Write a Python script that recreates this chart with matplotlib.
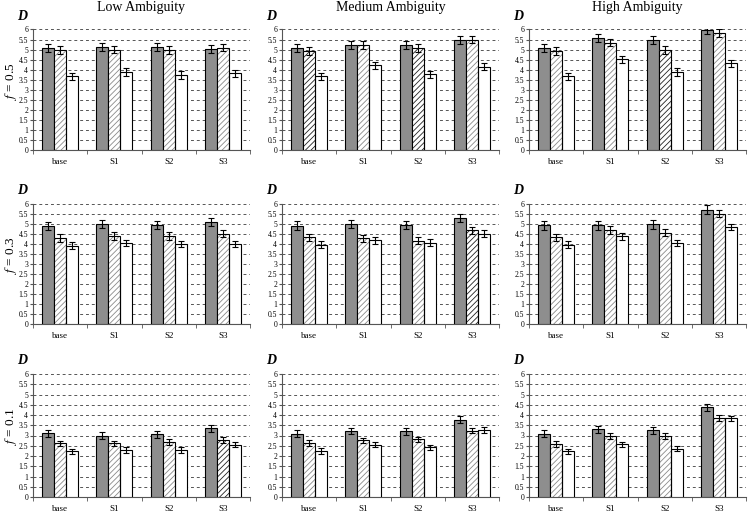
import numpy as np
import matplotlib
matplotlib.use("Agg")
from matplotlib import pyplot as plt
from matplotlib.ticker import FixedLocator, FuncFormatter

plt.rcParams['font.family'] = ['Liberation Serif', 'DejaVu Serif']
plt.rcParams['mathtext.fontset'] = 'stix'
plt.rcParams['hatch.linewidth'] = 0.6

categories = ['base', 'S1', 'S2', 'S3']
columns = ['Low Ambiguity', 'Medium Ambiguity', 'High Ambiguity']
rows = ['0.5', '0.3', '0.1']

# values: [grey, hatched, white] per category
low_f05 = [[5.09, 5.14, 5.12, 5.04], [4.97, 5.00, 4.97, 5.10], [3.66, 3.88, 3.73, 3.81]]
med_f05 = [[5.10, 5.24, 5.24, 5.50], [4.93, 5.22, 5.07, 5.50], [3.66, 4.21, 3.77, 4.15]]
high_f05 = [[5.09, 5.58, 5.48, 5.99], [4.93, 5.35, 4.99, 5.84], [3.67, 4.52, 3.88, 4.32]]

low_f03 = [[4.89, 5.01, 4.96, 5.11], [4.30, 4.40, 4.40, 4.52], [3.92, 4.05, 4.00, 4.00]]
med_f03 = [[4.92, 5.00, 4.96, 5.30], [4.34, 4.28, 4.16, 4.69], [3.96, 4.19, 4.06, 4.51]]
high_f03 = [[4.93, 4.93, 4.98, 5.72], [4.33, 4.70, 4.57, 5.52], [3.96, 4.38, 4.05, 4.85]]

low_f01 = [[3.10, 2.98, 3.07, 3.36], [2.61, 2.61, 2.67, 2.77], [2.23, 2.30, 2.30, 2.56]]
med_f01 = [[3.09, 3.22, 3.21, 3.76], [2.65, 2.76, 2.81, 3.24], [2.25, 2.56, 2.42, 3.27]]
high_f01 = [[3.08, 3.30, 3.25, 4.37], [2.60, 2.97, 2.98, 3.87], [2.23, 2.57, 2.36, 3.84]]

# error bar half-widths per series, per row
err_f05 = [0.20, 0.19, 0.18]
err_f03 = [0.21, 0.18, 0.17]
err_f01 = [0.17, 0.14, 0.13]

panels = [[low_f05, med_f05, high_f05],
          [low_f03, med_f03, high_f03],
          [low_f01, med_f01, high_f01]]
errs = [err_f05, err_f03, err_f01]

# hatched bars printed with dark hatching (row, col, category)
dark_hatch = {(0, 1, 0), (0, 1, 2), (0, 2, 2), (1, 1, 3), (2, 0, 3)}

W, H = 750, 515
fig = plt.figure(figsize=(7.5, 5.15), dpi=100)

col_left = [33, 282, 529]
col_width = 217
row_top = [29.5, 204, 374]
row_bottom = [150, 324, 497]

w = 0.22
x = np.arange(len(categories))

for r in range(3):
    for c in range(3):
        ax = fig.add_axes([col_left[c] / W, 1 - row_bottom[r] / H,
                           col_width / W, (row_bottom[r] - row_top[r]) / H])
        vals = panels[r][c]
        e = errs[r]
        ekw = dict(ecolor='black', elinewidth=0.8, capsize=2, capthick=0.8)
        ax.bar(x - w, vals[0], w, yerr=e[0], color='#8e8e8e',
               edgecolor='black', linewidth=0.8, error_kw=ekw, zorder=3)
        for i in range(len(categories)):
            hc = '#222222' if (r, c, i) in dark_hatch else '#8a8a8a'
            ax.bar(x[i], vals[1][i], w, color='white', edgecolor=hc,
                   hatch='//////', linewidth=0, zorder=3)
            ax.bar(x[i], vals[1][i], w, color='none', edgecolor='black',
                   linewidth=0.8, yerr=e[1], error_kw=ekw, zorder=4)
        ax.bar(x + w, vals[2], w, yerr=e[2], color='white',
               edgecolor='black', linewidth=0.8, error_kw=ekw, zorder=3)

        ax.set_xlim(-0.5, 3.5)
        ax.set_ylim(0, 6)
        ax.yaxis.set_major_locator(FixedLocator(np.arange(0, 6.01, 0.5)))
        ax.yaxis.set_major_formatter(FuncFormatter(lambda v, p: '%g' % v))
        ax.set_xticks(x)
        ax.set_xticklabels(categories, fontsize=6.5)
        ax.xaxis.set_minor_locator(FixedLocator(np.arange(-0.5, 3.6, 1)))
        ax.tick_params(axis='x', which='major', length=0, pad=6)
        ax.tick_params(axis='x', which='minor', length=3, direction='out', color='#555555')
        ax.tick_params(axis='y', labelsize=5.5, length=2.5, pad=1.0, color='#555555')
        ax.grid(axis='y', color='#555555', linestyle=(0, (3, 3)), linewidth=0.7, zorder=0)
        for s in ['top', 'right']:
            ax.spines[s].set_visible(False)
        for s in ['left', 'bottom']:
            ax.spines[s].set_color('#555555')
            ax.spines[s].set_linewidth(0.8)
        ax.set_axisbelow(True)

        fig.text((col_left[c] - 16) / W, 1 - (row_top[r] - 13) / H, 'D',
                 fontsize=10, fontweight='bold', fontstyle='italic',
                 ha='left', va='center')

    fig.text(11 / W, 1 - ((row_top[r] + row_bottom[r]) / 2 - 9) / H,
             r'$f$' + ' = ' + rows[r], rotation=90, fontsize=9.5,
             ha='center', va='center')

for c in range(3):
    fig.text((col_left[c] + col_width / 2) / W, 1 - 8 / H, columns[c],
             fontsize=10, ha='center', va='center')

fig.savefig('out.png', dpi=100)
